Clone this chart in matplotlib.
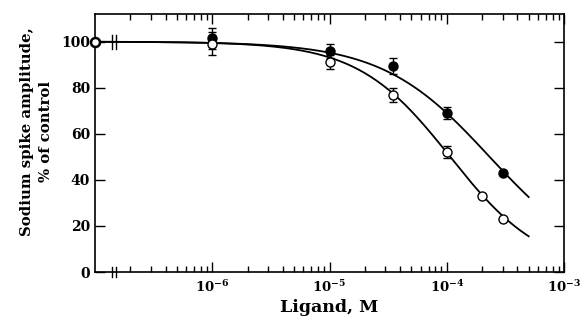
import numpy as np
import matplotlib
matplotlib.use("Agg")
import matplotlib.pyplot as plt

# Data
conc = [1e-6, 1e-5, 3.5e-5, 1e-4, 3e-4]
filled_vals = [101.5, 96, 89.5, 69, 43]
filled_err = [4.5, 3, 3.5, 2.5, 0]
open_conc = [1e-6, 1e-5, 3.5e-5, 1e-4, 2e-4, 3e-4]
open_vals = [99, 91, 77, 52, 33, 23]
open_err = [5, 3, 3, 2.5, 0, 0]
control_x = 1e-7
control_val = 100

# Hill fits (IC50, slope)
filled_ic50, filled_n = 2.32e-4, 0.95
open_ic50, open_n = 1.07e-4, 1.1
curve_end = 5e-4

plt.rcParams['font.family'] = ['DejaVu Serif']
plt.rcParams['font.weight'] = 'bold'

fig = plt.figure(figsize=(5.84, 3.20), dpi=100)
ax = fig.add_axes([95/584, 1-272/320, (564-95)/584, (272-14)/320])

xc = np.logspace(-7, np.log10(curve_end), 300)
for ic, n in [(filled_ic50, filled_n), (open_ic50, open_n)]:
    ax.plot(xc, 100/(1+(xc/ic)**n), color='black', lw=1.3, zorder=2)

ax.errorbar(conc, filled_vals, yerr=filled_err, fmt='o', color='black',
            mfc='black', ms=6.5, capsize=3, elinewidth=1, capthick=1, zorder=4)
ax.errorbar(open_conc, open_vals, yerr=open_err, fmt='o', color='black',
            mfc='white', ms=6.5, capsize=3, elinewidth=1, capthick=1, zorder=5)
ax.plot([control_x], [control_val], 'o', mfc='white', mec='black', mew=1.8,
        ms=6.5, clip_on=False, zorder=6)

ax.set_xscale('log')
ax.set_xlim(1e-7, 1e-3)
ax.set_ylim(0, 112)
ax.set_yticks([0, 20, 40, 60, 80, 100])
ax.set_xticks([1e-6, 1e-5, 1e-4, 1e-3])
ax.set_xticklabels([r'$\mathregular{10^{-6}}$', r'$\mathregular{10^{-5}}$', r'$\mathregular{10^{-4}}$', r'$\mathregular{10^{-3}}$'])
ax.tick_params(which='both', direction='in', top=True, right=True, labelright=False, labeltop=False)
ax.tick_params(which='major', length=7, width=1)
ax.tick_params(axis='y', labelsize=10)
ax.tick_params(axis='x', labelsize=9.5, pad=5)
ax.tick_params(which='minor', length=4, width=1)
for s in ax.spines.values():
    s.set_linewidth(1.2)

# axis break marks
bx = [1.40e-7, 1.50e-7]
for b in bx:
    ax.plot([b, b], [-2.2, 2.2], color='black', lw=1, clip_on=False, zorder=7)
    ax.plot([b, b], [97, 103], color='black', lw=1, clip_on=False, zorder=7)
for lbl in ax.get_yticklabels():
    lbl.set_fontweight('bold')

ax.set_ylabel('Sodium spike amplitude,\n% of control', fontsize=10.7, fontweight='bold',
              linespacing=1.45)
ax.yaxis.set_label_coords(-0.09, 0.546)
ax.set_xlabel('Ligand, M', fontsize=12.5, fontweight='bold', labelpad=3)

fig.savefig('out.png', dpi=100)
